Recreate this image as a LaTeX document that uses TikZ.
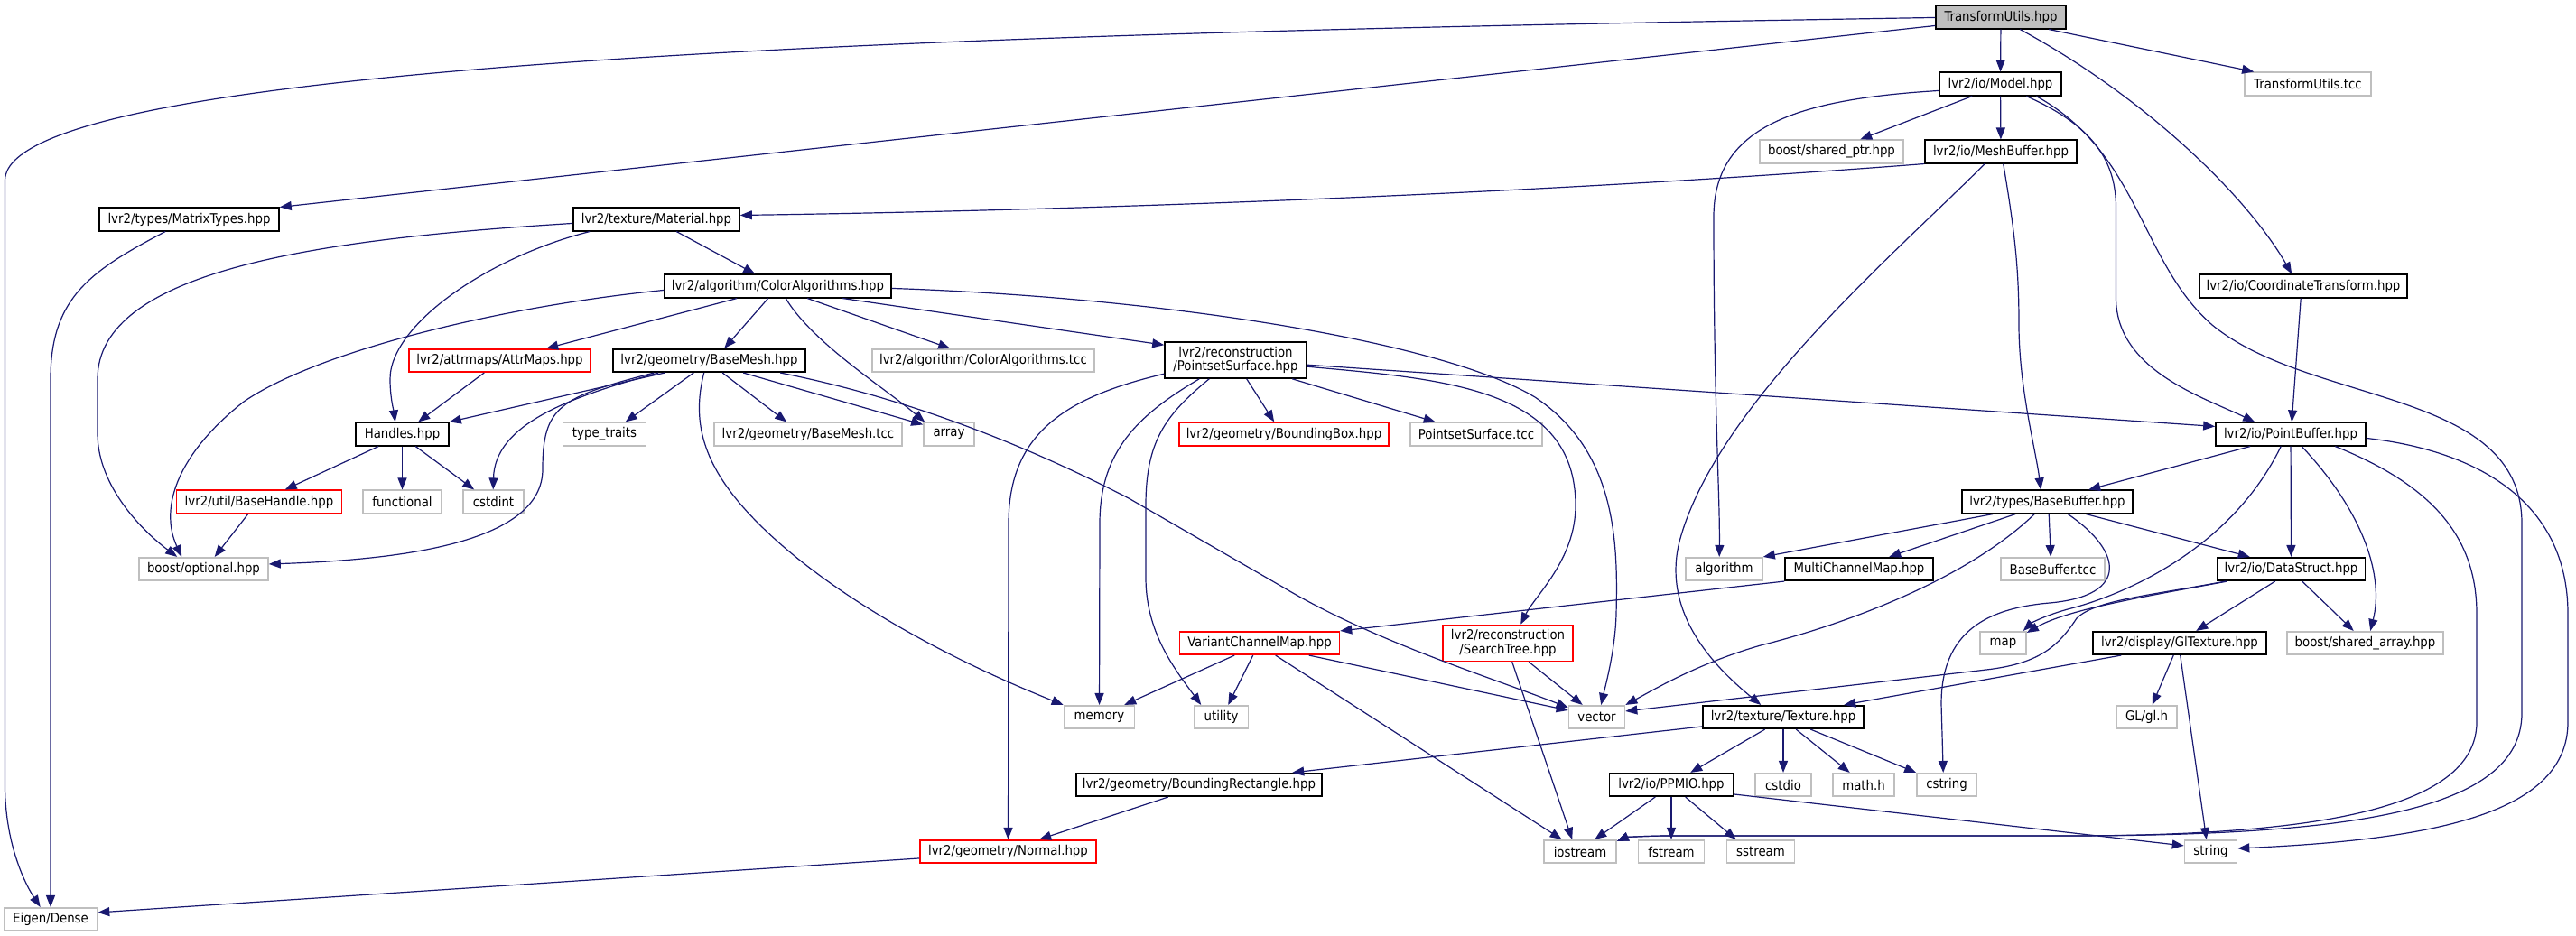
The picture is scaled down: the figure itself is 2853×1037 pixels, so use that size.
\documentclass[tikz,border=0pt]{standalone}
\usepackage{fontspec}
\newfontfamily\dvs{DejaVu Sans Condensed}
\usetikzlibrary{arrows.meta,calc}
\definecolor{edgeblue}{HTML}{191970}
\definecolor{graybd}{HTML}{BFBFBF}
\definecolor{redbd}{HTML}{FF0000}
\tikzset{
  nb/.style={draw=black, line width=0.8pt, fill=white, inner sep=0pt, minimum height=12.75pt,
    font=\dvs\fontsize{7.4}{7.6}\selectfont, text=black, align=center},
  ng/.style={nb, draw=graybd},
  nr/.style={nb, draw=redbd},
  rootnode/.style={nb, fill=graybd},
  wd/.style={minimum width={#1*0.5pt}},
  twol/.style={minimum height=20pt},
  e/.style={draw=edgeblue, line width=0.6pt, -{Triangle[length=6.5pt,width=5pt]}},
}
\begin{document}
\begin{tikzpicture}[x=0.5pt,y=-0.5pt]
\useasboundingbox (0,0) rectangle (2853,1037);
% nodes
\node[rootnode,wd=144] (tu) at (2216,19) {TransformUtils.hpp};
\node[nb,wd=135] (model) at (2215.5,93) {lvr2/io/Model.hpp};
\node[ng,wd=140] (tcc) at (2556,93) {TransformUtils.tcc};
\node[nb,wd=168] (meshbuf) at (2216,168) {lvr2/io/MeshBuffer.hpp};
\node[ng,wd=159] (sptr) at (2028.5,168) {boost/shared\_ptr.hpp};
\node[nb,wd=230] (coord) at (2551,317) {lvr2/io/CoordinateTransform.hpp};
\node[nb,wd=199] (matrix) at (209.5,243) {lvr2/types/MatrixTypes.hpp};
\node[nb,wd=184] (material) at (727,243) {lvr2/texture/Material.hpp};
\node[nb,wd=251] (coloralg) at (861.5,317) {lvr2/algorithm/ColorAlgorithms.hpp};
\node[nr,wd=201] (attrmaps) at (553.5,399.5) {lvr2/attrmaps/AttrMaps.hpp};
\node[nb,wd=213] (basemesh) at (785.5,399.5) {lvr2/geometry/BaseMesh.hpp};
\node[ng,wd=246] (coltcc) at (1089,399.5) {lvr2/algorithm/ColorAlgorithms.tcc};
\node[nb,wd=157,twol] (pss) at (1368.5,399) {lvr2/reconstruction\\/PointsetSurface.hpp};
\node[nb,wd=103] (handles) at (445.5,481) {Handles.hpp};
\node[ng,wd=92] (typetraits) at (669.5,481) {type\_traits};
\node[ng,wd=208] (bmtcc) at (895,481) {lvr2/geometry/BaseMesh.tcc};
\node[ng,wd=56] (array) at (1051,481) {array};
\node[nr,wd=232] (bbox) at (1422,481) {lvr2/geometry/BoundingBox.hpp};
\node[ng,wd=146] (psstcc) at (1635,481) {PointsetSurface.tcc};
\node[nb,wd=166] (pointbuf) at (2537,481) {lvr2/io/PointBuffer.hpp};
\node[nr,wd=183] (basehandle) at (287,556) {lvr2/util/BaseHandle.hpp};
\node[ng,wd=87] (functional) at (445.5,556) {functional};
\node[ng,wd=67] (cstdint) at (546.5,556) {cstdint};
\node[nb,wd=189] (basebuf) at (2267.5,556) {lvr2/types/BaseBuffer.hpp};
\node[ng,wd=143] (optional) at (225.5,630.5) {boost/optional.hpp};
\node[ng,wd=85] (algorithm) at (1909.5,630.5) {algorithm};
\node[nb,wd=164] (multich) at (2059,630.5) {MultiChannelMap.hpp};
\node[ng,wd=115] (bbtcc) at (2273.5,630.5) {BaseBuffer.tcc};
\node[nb,wd=164] (datastruct) at (2537.5,630.5) {lvr2/io/DataStruct.hpp};
\node[nr,wd=177] (variant) at (1395,712.5) {VariantChannelMap.hpp};
\node[nr,wd=144,twol] (searchtree) at (1670,712.5) {lvr2/reconstruction\\/SearchTree.hpp};
\node[ng,wd=51] (map) at (2218.5,712.5) {map};
\node[nb,wd=192] (gltex) at (2414,712.5) {lvr2/display/GlTexture.hpp};
\node[ng,wd=173] (sarray) at (2619.5,712.5) {boost/shared\_array.hpp};
\node[ng,wd=78] (memory) at (1217.5,794.5) {memory};
\node[ng,wd=60] (utility) at (1352.5,794.5) {utility};
\node[ng,wd=62] (vector) at (1768.5,794.5) {vector};
\node[nb,wd=178] (texture) at (1975,794.5) {lvr2/texture/Texture.hpp};
\node[ng,wd=67] (gl) at (2377.5,794.5) {GL/gl.h};
\node[nb,wd=272] (bbrect) at (1328,869.5) {lvr2/geometry/BoundingRectangle.hpp};
\node[nb,wd=137] (ppmio) at (1851,869.5) {lvr2/io/PPMIO.hpp};
\node[ng,wd=62] (cstdio) at (1975,869.5) {cstdio};
\node[ng,wd=68] (mathh) at (2064,869.5) {math.h};
\node[ng,wd=66] (cstring) at (2156,869.5) {cstring};
\node[nr,wd=195] (normal) at (1116.5,943.5) {lvr2/geometry/Normal.hpp};
\node[ng,wd=80] (iostream) at (1750,943.5) {iostream};
\node[ng,wd=73] (fstream) at (1851,943.5) {fstream};
\node[ng,wd=75] (sstream) at (1950,943.5) {sstream};
\node[ng,wd=58] (string) at (2448.5,943.5) {string};
\node[ng,wd=103] (eigen) at (56,1018.5) {Eigen/Dense};
% edges from TransformUtils
\draw[e] ($(tu.north west)+(0,14)$) .. controls (1200,35) and (5.5,60) .. (5.5,200) -- (5.5,870) .. controls (5.5,930) and (25,975) .. ($(eigen.north west)+(41,0)$);
\draw[e] ($(tu.north west)+(0,23)$) -- (matrix.north east);
\draw[e] (tu) -- (model);
\draw[e] ($(tu.south west)+(126,0)$) -- ($(tcc.north west)+(11,0)$);
\draw[e] ($(tu.south west)+(94,0)$) .. controls (2380,110) and (2490,220) .. ($(coord.north west)+(103,0)$);
% Model
\draw[e] ($(model.north west)+(0,21)$) .. controls (1990,110) and (1898,140) .. (1898,240) .. controls (1898,450) and (1905,550) .. ($(algorithm.north west)+(38,0)$);
\draw[e] ($(model.south west)+(37,0)$) -- ($(sptr.north west)+(112,0)$);
\draw[e] (model) -- (meshbuf);
\draw[e] ($(model.south west)+(97,0)$) .. controls (2320,140) and (2343.5,180) .. (2343.5,230) -- (2343.5,330) .. controls (2343.5,410) and (2440,440) .. ($(pointbuf.north west)+(44,0)$);
\draw[e] ($(model.south west)+(108,0)$) .. controls (2370,170) and (2370,290) .. (2450,360) .. controls (2560,450) and (2793,430) .. (2793,580) -- (2793,790) .. controls (2793,900) and (2600,925) .. (2300,926) -- (1850,926) .. controls (1820,926) and (1800,928) .. ($(iostream.north east)+(0,2)$);
% MeshBuffer
\draw[e] (meshbuf.south west) .. controls (1700,215) and (1200,233) .. ($(material.north east)+(0,9)$);
\draw[e] ($(meshbuf.south west)+(87.5,0)$) .. controls (2232,260) and (2236,300) .. (2236,360) .. controls (2236,430) and (2255,500) .. ($(basebuf.north west)+(88,0)$);
\draw[e] ($(meshbuf.south west)+(67,0)$) .. controls (2100,280) and (1900,450) .. (1860,600) .. controls (1840,680) and (1900,740) .. ($(texture.north west)+(65,0)$);
% CoordinateTransform, MatrixTypes
\draw[e] ($(coord.south west)+(113,0)$) -- ($(pointbuf.north west)+(85,0)$);
\draw[e] ($(matrix.south west)+(74,0)$) .. controls (100,300) and (56,330) .. (56,420) -- (eigen);
% Material
\draw[e] ($(material.south west)+(115,0)$) -- ($(coloralg.north west)+(101,0)$);
\draw[e] ($(material.north west)+(0,18)$) .. controls (350,265) and (108,300) .. (108,420) -- (108,480) .. controls (108,540) and (160,590) .. ($(optional.north west)+(43,0)$);
\draw[e] ($(material.south west)+(19,0)$) .. controls (540,285) and (432,360) .. (432,420) .. controls (432,440) and (436,455) .. ($(handles.north west)+(44.5,0)$);
% ColorAlgorithms
\draw[e] ($(coloralg.north west)+(0,18)$) .. controls (550,340) and (350,390) .. (270,445) .. controls (200,500) and (175,560) .. ($(optional.north west)+(48,0)$);
\draw[e] ($(coloralg.south west)+(81,0)$) -- ($(attrmaps.north west)+(153,0)$);
\draw[e] ($(coloralg.south west)+(115.5,0)$) -- ($(basemesh.north west)+(124,0)$);
\draw[e] ($(coloralg.south west)+(135,0)$) .. controls (900,380) and (980,430) .. ($(array.north west)+(2,0)$);
\draw[e] ($(coloralg.south west)+(159,0)$) -- ($(coltcc.north west)+(87,0)$);
\draw[e] ($(coloralg.south west)+(198,0)$) -- ($(pss.north west)+(0,4)$);
\draw[e] ($(coloralg.north east)+(0,16)$) .. controls (1300,330) and (1600,380) .. (1700,440) .. controls (1790,500) and (1792,600) .. (1790,680) .. controls (1789,720) and (1778,760) .. ($(vector.north west)+(36.5,0)$);
% AttrMaps
\draw[e] ($(attrmaps.south west)+(84,0)$) -- ($(handles.north west)+(70,0)$);
% BaseMesh
\draw[e] ($(basemesh.south west)+(58,0)$) -- (handles.north east);
\draw[e] ($(basemesh.south west)+(51,0)$) .. controls (630,440) and (548,470) .. ($(cstdint.north west)+(34,0)$);
\draw[e] ($(basemesh.south west)+(46,0)$) .. controls (620,440) and (601,450) .. (601,520) .. controls (601,600) and (450,620) .. ($(optional.north east)+(0,8)$);
\draw[e] ($(basemesh.south west)+(90,0)$) -- ($(typetraits.north west)+(70,0)$);
\draw[e] ($(basemesh.south west)+(101.5,0)$) .. controls (765,470) and (780,520) .. (840,580) .. controls (920,660) and (1050,730) .. (memory.north west);
\draw[e] ($(basemesh.south west)+(122,0)$) -- ($(bmtcc.north west)+(81,0)$);
\draw[e] ($(basemesh.south west)+(145,0)$) -- ($(array.north west)+(0,3)$);
\draw[e] ($(basemesh.south west)+(186,0)$) .. controls (1000,440) and (1130,490) .. (1250,552) -- (1420,650) .. controls (1520,710) and (1650,750) .. ($(vector.north west)+(0,3)$);
% PointsetSurface
\draw[e] ($(pss.south west)+(91.5,0)$) -- ($(bbox.north west)+(106,0)$);
\draw[e] ($(pss.south west)+(142,0)$) -- ($(psstcc.north west)+(28.5,0)$);
\draw[e] ($(pss.north east)+(0,26)$) -- ($(pointbuf.north west)+(0,5)$);
\draw[e] ($(pss.north east)+(0,28)$) .. controls (1600,420) and (1745,430) .. (1745,560) .. controls (1745,620) and (1700,660) .. ($(searchtree.north west)+(87,0)$);
\draw[e] ($(pss.north west)+(0,36)$) .. controls (1180,440) and (1117,480) .. (1117,580) -- (normal);
\draw[e] ($(pss.south west)+(39,0)$) .. controls (1260,460) and (1218,500) .. (1218,580) -- (memory);
\draw[e] ($(pss.south west)+(50,0)$) .. controls (1290,460) and (1269,490) .. (1269,560) -- (1269,640) .. controls (1269,700) and (1300,740) .. ($(utility.north west)+(8.5,0)$);
% Handles, BaseHandle
\draw[e] ($(handles.south west)+(26,0)$) -- ($(basehandle.north west)+(121,0)$);
\draw[e] (handles) -- (functional);
\draw[e] ($(handles.south west)+(67,0)$) -- ($(cstdint.north west)+(13,0)$);
\draw[e] ($(basehandle.south west)+(80,0)$) -- ($(optional.north west)+(84.5,0)$);
% PointBuffer
\draw[e] ($(pointbuf.south west)+(39,0)$) -- ($(basebuf.north west)+(141,0)$);
\draw[e] ($(pointbuf.south west)+(73,0)$) .. controls (2470,610) and (2350,660) .. (2290,675) .. controls (2265,682) and (2250,690) .. ($(map.north east)+(-4,0)$);
\draw[e] (pointbuf) -- (datastruct);
\draw[e] ($(pointbuf.south west)+(96,0)$) .. controls (2620,570) and (2640,640) .. ($(sarray.north west)+(93,0)$);
\draw[e] ($(pointbuf.south west)+(133,0)$) .. controls (2700,540) and (2743,600) .. (2743,680) -- (2743,800) .. controls (2743,900) and (2550,925) .. (2300,926) -- (1850,926) .. controls (1820,926) and (1800,928) .. ($(iostream.north east)+(0,2)$);
\draw[e] ($(pointbuf.north east)+(0,18)$) .. controls (2750,500) and (2844,560) .. (2844,680) -- (2844,800) .. controls (2844,900) and (2700,930) .. ($(string.north east)+(0,10)$);
% BaseBuffer
\draw[e] ($(basebuf.south west)+(35,0)$) -- (algorithm.north east);
\draw[e] ($(basebuf.south west)+(60,0)$) -- ($(multich.north west)+(116,0)$);
\draw[e] ($(basebuf.south west)+(81,0)$) .. controls (2180,640) and (2050,690) .. (1950,715) .. controls (1880,735) and (1830,765) .. (vector.north east);
\draw[e] ($(basebuf.south west)+(97,0)$) -- ($(bbtcc.north west)+(56,0)$);
\draw[e] ($(basebuf.south west)+(118,0)$) .. controls (2350,610) and (2360,660) .. (2270,668) .. controls (2200,674) and (2150,700) .. (2150,780) -- ($(cstring.north west)+(30,0)$);
\draw[e] ($(basebuf.south west)+(138,0)$) -- ($(datastruct.north west)+(37,0)$);
% DataStruct
\draw[e] ($(datastruct.south west)+(12,0)$) .. controls (2380,660) and (2290,675) .. ($(map.north east)+(0,2)$);
\draw[e] ($(datastruct.south west)+(10,0)$) .. controls (2380,660) and (2320,665) .. (2300,685) .. controls (2280,715) and (2260,735) .. (2200,742) -- ($(vector.north east)+(0,7)$);
\draw[e] ($(datastruct.south west)+(65,0)$) -- ($(gltex.north west)+(115,0)$);
\draw[e] ($(datastruct.south west)+(95,0)$) -- ($(sarray.north west)+(74.5,0)$);
% MultiChannelMap, VariantChannelMap, SearchTree
\draw[e] (multich.south west) -- (variant.north east);
\draw[e] ($(variant.south west)+(61.5,0)$) -- ($(memory.north west)+(67.5,0)$);
\draw[e] ($(variant.south west)+(82,0)$) -- ($(utility.north west)+(38.5,0)$);
\draw[e] ($(variant.south west)+(144,0)$) -- ($(vector.north west)+(0,6)$);
\draw[e] ($(variant.south west)+(107,0)$) -- ($(iostream.north west)+(20.5,0)$);
\draw[e] ($(searchtree.south west)+(96,0)$) -- ($(vector.north west)+(16,0)$);
\draw[e] ($(searchtree.south west)+(77.5,0)$) -- ($(iostream.north west)+(32,0)$);
% GlTexture
\draw[e] ($(gltex.south west)+(32,0)$) -- ($(texture.north west)+(157,0)$);
\draw[e] ($(gltex.south west)+(90,0)$) -- ($(gl.north west)+(40.5,0)$);
\draw[e] ($(gltex.south west)+(97.5,0)$) -- ($(string.north west)+(25,0)$);
% Texture
\draw[e] ($(texture.north west)+(0,24)$) -- ($(bbrect.north west)+(240,0)$);
\draw[e] ($(texture.south west)+(69.5,0)$) -- ($(ppmio.north west)+(90.5,0)$);
\draw[e] (texture) -- (cstdio);
\draw[e] ($(texture.south west)+(104,0)$) -- ($(mathh.north west)+(19.5,0)$);
\draw[e] ($(texture.south west)+(120,0)$) -- (cstring.north west);
% BoundingRectangle, PPMIO, Normal
\draw[e] ($(bbrect.south west)+(102.5,0)$) -- ($(normal.north west)+(133,0)$);
\draw[e] ($(ppmio.south west)+(51.5,0)$) -- ($(iostream.north west)+(57,0)$);
\draw[e] (ppmio) -- (fstream);
\draw[e] ($(ppmio.south west)+(85,0)$) -- ($(sstream.north west)+(11,0)$);
\draw[e] ($(ppmio.north east)+(0,24)$) -- ($(string.north west)+(0,7)$);
\draw[e] ($(normal.north west)+(0,21)$) -- ($(eigen.north east)+(0,6)$);
\end{tikzpicture}
\end{document}
